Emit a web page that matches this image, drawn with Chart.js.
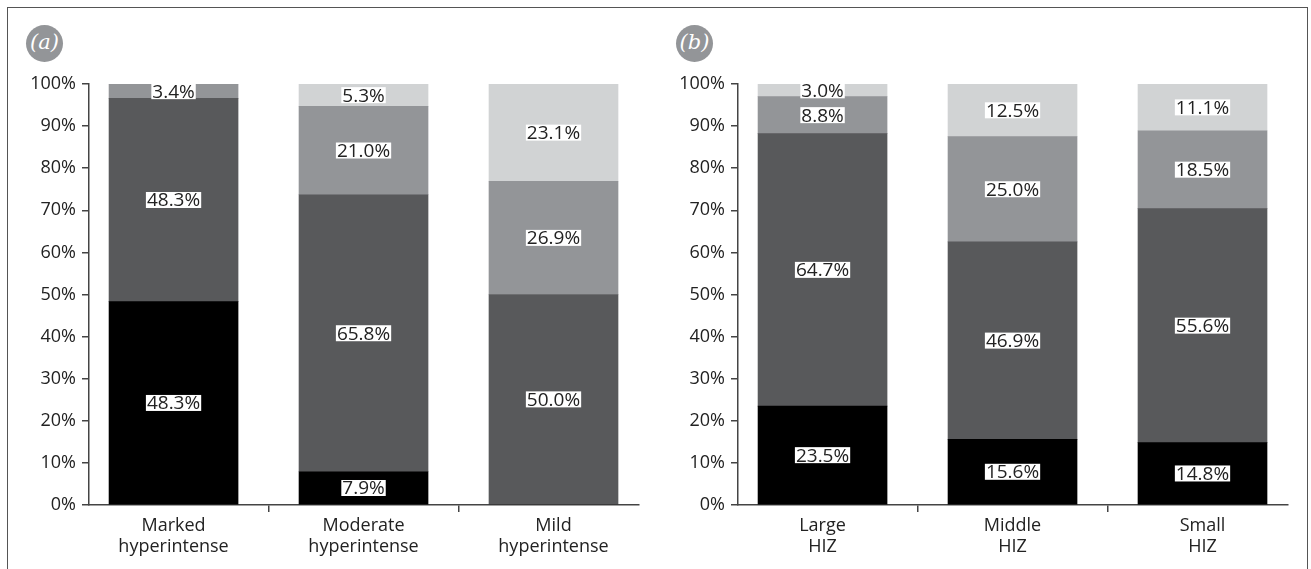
<!DOCTYPE html>
<html>
<head>
<meta charset="utf-8">
<script src="https://cdn.jsdelivr.net/npm/chart.js@4"></script>
<style>
  body { margin: 0; background: #fff; }
  #frame { position: absolute; left: 7px; top: 7px; width: 1299px; height: 620px; border: 1.5px solid #555; }
  canvas { position: absolute; top: 0; }
  .badge { position: absolute; top: 25px; width: 37px; height: 37px; border-radius: 50%; background: #939598;
           color: #fff; font: italic 21px "DejaVu Serif", serif; text-align: center; line-height: 35px; }
</style>
</head>
<body>
<div id="frame"></div>
<div class="badge" style="left:26px">(a)</div>
<div class="badge" style="left:676px">(b)</div>
<canvas id="chartA" width="655" height="569" style="left:0"></canvas>
<canvas id="chartB" width="661" height="569" style="left:650px"></canvas>
<script>
// panel (a)
const catsA = [['Marked', 'hyperintense'], ['Moderate', 'hyperintense'], ['Mild', 'hyperintense']];
const blackA = [48.3, 7.9, 0];
const darkA = [48.3, 65.8, 50.0];
const midA = [3.4, 21.0, 26.9];
const lightA = [0, 5.3, 23.1];

// panel (b)
const catsB = [['Large', 'HIZ'], ['Middle', 'HIZ'], ['Small', 'HIZ']];
const blackB = [23.5, 15.6, 14.8];
const darkB = [64.7, 46.9, 55.6];
const midB = [8.8, 25.0, 18.5];
const lightB = [3.0, 12.5, 11.1];

const yTicks = [0, 10, 20, 30, 40, 50, 60, 70, 80, 90, 100];

const colors = ['#000000', '#58595b', '#939598', '#d1d3d4'];
const font = '"Open Sans", sans-serif';

// white boxed value labels in the middle of each segment
const segmentLabels = {
  id: 'segmentLabels',
  afterDatasetsDraw(chart) {
    const ctx = chart.ctx;
    ctx.save();
    ctx.font = '19px ' + font;
    ctx.textAlign = 'center';
    ctx.textBaseline = 'middle';
    chart.data.datasets.forEach((ds, i) => {
      chart.getDatasetMeta(i).data.forEach((bar, j) => {
        const v = ds.data[j].y;
        if (!v) return;
        const text = v.toFixed(1) + '%';
        const y = (bar.y + bar.base) / 2;
        const w = ctx.measureText(text).width;
        ctx.fillStyle = '#fff';
        ctx.fillRect(bar.x - w / 2 - 1, y - 8, w + 2, 16);
        ctx.fillStyle = '#222';
        ctx.fillText(text, bar.x, y + 1);
      });
    });
    ctx.restore();
  }
};

function toPoints(arr) {
  return arr.map((v, i) => ({ x: i, y: v }));
}

function makePanel(id, cats, series, yWidth, padRight) {
  return new Chart(document.getElementById(id), {
    type: 'bar',
    data: {
      datasets: series.map((s, i) => ({
        data: toPoints(s),
        backgroundColor: colors[i],
        borderWidth: 0,
        barThickness: 129
      }))
    },
    options: {
      responsive: false,
      animation: false,
      layout: { padding: { top: 84, right: padRight, bottom: 0, left: 0 } },
      plugins: { legend: { display: false }, tooltip: { enabled: false } },
      scales: {
        x: {
          type: 'linear',
          stacked: true,
          offset: false,
          min: -0.445,
          max: 2.45,
          afterBuildTicks: scale => {
            scale.ticks = [0, 0.5, 1, 1.5, 2].map(v => ({ value: v }));
          },
          afterFit: scale => { scale.height = 64; },
          ticks: {
            autoSkip: false,
            maxRotation: 0,
            padding: 4,
            color: '#222',
            font: { family: font, size: 18, lineHeight: 1.15 },
            callback: v => (v % 1 === 0 ? cats[v] : '')
          },
          grid: {
            offset: false,
            drawOnChartArea: false,
            tickLength: 7,
            lineWidth: 1.5,
            color: c => (c.tick && c.tick.value % 1 !== 0 ? '#444' : 'rgba(0,0,0,0)')
          },
          border: { color: '#444', width: 1.5 }
        },
        y: {
          stacked: true,
          min: 0,
          max: 100,
          afterBuildTicks: scale => {
            scale.ticks = yTicks.map(v => ({ value: v }));
          },
          afterFit: scale => { scale.width = yWidth; },
          ticks: {
            padding: 6,
            color: '#222',
            font: { family: font, size: 18 },
            callback: v => v + '%'
          },
          grid: { drawOnChartArea: false, tickLength: 7, lineWidth: 1.5, color: '#444' },
          border: { color: '#444', width: 1.5 }
        }
      }
    },
    plugins: [segmentLabels]
  });
}

makePanel('chartA', catsA, [blackA, darkA, midA, lightA], 89, 16);
makePanel('chartB', catsB, [blackB, darkB, midB, lightB], 88, 23);
</script>
</body>
</html>
